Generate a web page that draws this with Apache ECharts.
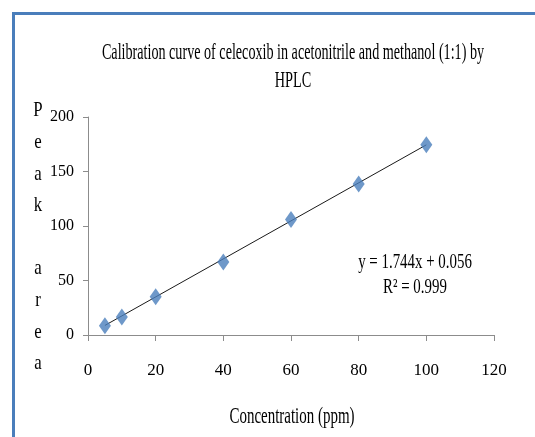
<!DOCTYPE html>
<html>
<head>
<meta charset="utf-8">
<script src="https://cdn.jsdelivr.net/npm/echarts@6/dist/echarts.min.js"></script>
<style>html,body{margin:0;padding:0;background:#fff;}#chart{width:535px;height:437px;}</style>
</head>
<body>
<div id="chart"></div>
<script>
const titleLines = ['Calibration curve of celecoxib in acetonitrile and methanol (1:1) by', 'HPLC'];
const xAxisTitle = 'Concentration (ppm)';
const yAxisTitle = 'Peak area';
const concentrations = [5, 10, 20, 40, 60, 80, 100];
const peakAreas = [8.5, 16.5, 35, 67, 106, 138.5, 174.5];
const trendSlope = 1.744;
const trendIntercept = 0.056;
const equationText = 'y = 1.744x + 0.056';
const r2Text = 'R\u00b2 = 0.999';
const xRange = [0, 120, 20];
const yRange = [0, 200, 50];

const serif = '"Liberation Serif", "Times New Roman", serif';
const points = concentrations.map((c, i) => [c, peakAreas[i]]);
const xFirst = concentrations[0], xLast = concentrations[concentrations.length - 1];
const trend = [[xFirst, trendSlope * xFirst + trendIntercept], [xLast, trendSlope * xLast + trendIntercept]];

const chart = echarts.init(document.getElementById('chart'), null, {renderer: 'canvas'});
chart.setOption({
  animation: false,
  backgroundColor: '#ffffff',
  grid: {left: 88, right: 41, top: 117, bottom: 102, containLabel: false},
  xAxis: {
    type: 'value', min: xRange[0], max: xRange[1], interval: xRange[2],
    splitLine: {show: false},
    axisLine: {show: true, onZero: false, lineStyle: {color: '#8c8c8c', width: 1}},
    axisTick: {show: true, length: 6, lineStyle: {color: '#8c8c8c'}},
    axisLabel: {margin: 27, fontFamily: serif, fontSize: 17, color: '#000'}
  },
  yAxis: {
    type: 'value', min: yRange[0], max: yRange[1], interval: yRange[2],
    splitLine: {show: false},
    axisLine: {show: true, onZero: false, lineStyle: {color: '#8c8c8c', width: 1}},
    axisTick: {show: true, length: 5, lineStyle: {color: '#8c8c8c'}},
    axisLabel: {margin: 14, fontFamily: serif, fontSize: 16, color: '#000'}
  },
  series: [
    {
      type: 'line', data: trend, symbol: 'none', silent: true,
      lineStyle: {color: '#1a1a1a', width: 1}, z: 2
    },
    {
      type: 'scatter', data: points, symbol: 'diamond', symbolSize: [12, 17],
      itemStyle: {color: '#4a7ebb'}, z: 3
    }
  ],
  graphic: [
    {type: 'rect', shape: {x: 12, y: 12, width: 523, height: 3}, style: {fill: '#4a7ebb'}},
    {type: 'rect', shape: {x: 12, y: 12, width: 3, height: 425}, style: {fill: '#4a7ebb'}},
    {type: 'text', x: 293, y: 53, scaleX: 0.615, style: {text: titleLines[0], font: '23px ' + serif, fill: '#000', textAlign: 'center', textVerticalAlign: 'middle'}},
    {type: 'text', x: 293, y: 81, scaleX: 0.62, style: {text: titleLines[1], font: '23px ' + serif, fill: '#000', textAlign: 'center', textVerticalAlign: 'middle'}},
    {type: 'text', x: 292, y: 417, scaleX: 0.65, style: {text: xAxisTitle, font: '23px ' + serif, fill: '#000', textAlign: 'center', textVerticalAlign: 'middle'}},
    {type: 'text', x: 38, y: 95, scaleX: 0.8, style: {text: yAxisTitle.split('').join('\n'), font: '21px ' + serif, lineHeight: 31.6, fill: '#000', textAlign: 'center', textVerticalAlign: 'top'}},
    {type: 'text', x: 415, y: 262, scaleX: 0.71, style: {text: equationText, font: '21px ' + serif, fill: '#000', textAlign: 'center', textVerticalAlign: 'middle'}},
    {type: 'text', x: 415, y: 287, scaleX: 0.71, style: {text: r2Text, font: '21px ' + serif, fill: '#000', textAlign: 'center', textVerticalAlign: 'middle'}}
  ]
});
</script>
</body>
</html>
